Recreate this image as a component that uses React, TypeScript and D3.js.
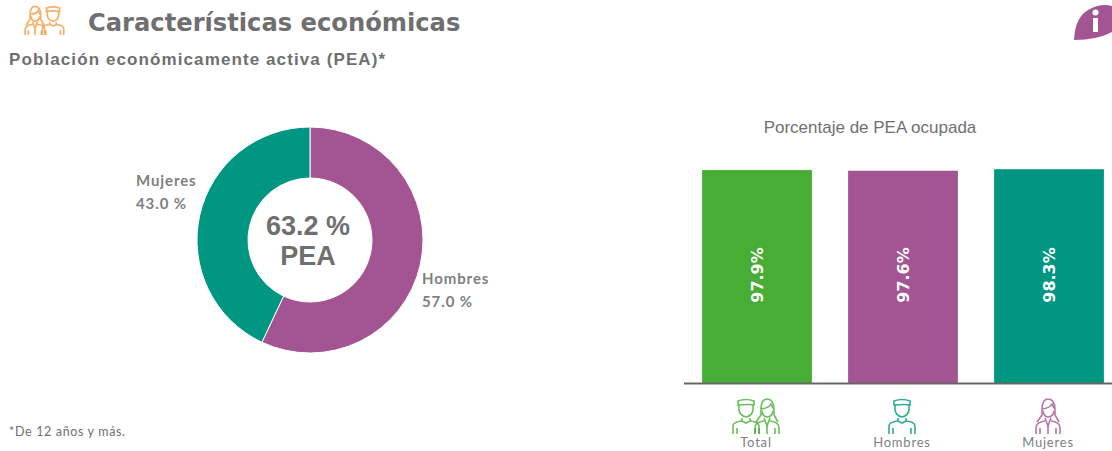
import React from 'react'
import * as d3 from 'd3'

const PIE_LABELS = ['Hombres', 'Mujeres']
const PIE_VALUES = [57.0, 43.0]
const PIE_COLORS = ['#a25592', '#009681']
const BAR_LABELS = ['Total', 'Hombres', 'Mujeres']
const BAR_VALUES = [97.9, 97.6, 98.3]
const BAR_COLORS = ['#47ad35', '#a25592', '#009681']

const GRAY = '#6f6f6f'
const width = 1112
const height = 451

// line-art people, drawn around (0,0), about 34px tall
const Man = ({ x, y, color, w = 1.6 }: { x: number; y: number; color: string; w?: number }) => (
  <g transform={`translate(${x},${y})`} fill="none" stroke={color} strokeWidth={w} opacity={0.8}>
    <path d="M-8,-13 L-8,-17 Q0,-20 8,-17 L8,-13 Q4,-14 -8,-13 Z" />
    <path d="M-7,-13 L-7,-8 Q-6,-2 0,-1 Q6,-2 7,-8 L7,-13" />
    <path d="M-4,0 L-4,3 L0,5 L4,3 L4,0" />
    <path d="M-13,16 L-13,8 Q-13,4 -4,3 M13,16 L13,8 Q13,4 4,3" />
    <path d="M-9,16 L-9,10 M9,16 L9,10" />
  </g>
)

const Woman = ({ x, y, color, w = 1.6 }: { x: number; y: number; color: string; w?: number }) => (
  <g transform={`translate(${x},${y})`} fill="none" stroke={color} strokeWidth={w} opacity={0.8}>
    <path d="M-6,-8 Q-6,-19 0,-19 Q7,-19 7,-8 L7,-3 L11,4 M-6,-8 L-6,-3 L-11,4" />
    <path d="M-6,-9 Q2,-10 4,-14 Q5,-11 7,-9" />
    <path d="M-5,-7 Q-4,-1 0,-1 Q5,-1 6,-7" />
    <path d="M-3,0 L0,8 L3,0 M-3,3 Q-12,4 -12,10 L-12,16 M3,3 Q12,4 12,10 L12,16" />
    <path d="M-8,16 L-8,10 M8,16 L8,10 M0,8 L0,16" />
  </g>
)

export default function App() {
  const cx = 310
  const cy = 240
  const pie = d3.pie<number>().sort(null)(PIE_VALUES)
  const arc = d3.arc<d3.PieArcDatum<number>>().innerRadius(62).outerRadius(113)

  const x = d3.scaleBand<string>().domain(BAR_LABELS).range([684, 1122]).paddingInner(0.248).paddingOuter(0.124)
  const y = d3.scaleLinear().domain([0, 100]).range([383, 165.5])

  const iconColors = ['#47ad35', '#009681', '#a25592']
  const pieText = { fontSize: 15, fontWeight: 'bold', fill: '#7f7f7f', letterSpacing: 0.9 }

  return (
    <svg
      width={width}
      height={height}
      style={{ position: 'absolute', left: 0, top: 0, background: '#fff' }}
      fontFamily="Lato, sans-serif"
    >
      <g transform="translate(44,22) scale(0.82)">
        <Woman x={-11} y={0} color="#f5a04a" w={2.2} />
        <Man x={11} y={0} color="#f5a04a" w={2.2} />
      </g>
      <text x={88} y={31} fontFamily="'DejaVu Sans', sans-serif" fontWeight="bold" fontSize={24.2} fill={GRAY}>
        Características económicas
      </text>
      <text x={9} y={65} fontFamily="'Liberation Sans', sans-serif" fontWeight="bold" fontSize={17} letterSpacing={1.1} fill={GRAY}>
        Población económicamente activa (PEA)*
      </text>

      {/* info badge */}
      <path
        d="M1074,40 Q1075,16 1090,9 Q1101,3 1112,6 L1112,32 Q1097,40 1074,40 Z"
        fill="#a25592"
      />
      <rect x={1093} y={18} width={5} height={14} fill="#fff" />
      <circle cx={1095.5} cy={12.5} r={3} fill="#fff" />

      <g transform={`translate(${cx},${cy})`}>
        {pie.map((d, i) => (
          <path key={PIE_LABELS[i]} d={arc(d) ?? ''} fill={PIE_COLORS[i]} stroke="#fff" strokeWidth={1} />
        ))}
      </g>
      <text x={cx - 2} y={235} textAnchor="middle" fontFamily="'Liberation Sans', sans-serif" fontWeight="bold" fontSize={27} fill={GRAY}>
        63.2 %
      </text>
      <text x={cx - 2} y={265} textAnchor="middle" fontFamily="'Liberation Sans', sans-serif" fontWeight="bold" fontSize={27} fill={GRAY}>
        PEA
      </text>
      <text x={422} y={284} {...pieText}>{PIE_LABELS[0]}</text>
      <text x={422} y={307} {...pieText}>{PIE_VALUES[0].toFixed(1)} %</text>
      <text x={136} y={186} {...pieText}>{PIE_LABELS[1]}</text>
      <text x={136} y={209} {...pieText}>{PIE_VALUES[1].toFixed(1)} %</text>

      <text x={870} y={133} textAnchor="middle" fontFamily="'Liberation Sans', sans-serif" fontSize={17} fill={GRAY}>
        Porcentaje de PEA ocupada
      </text>

      {BAR_LABELS.map((label, i) => {
        const bx = x(label) ?? 0
        const mid = bx + x.bandwidth() / 2
        return (
          <g key={label}>
            <rect x={bx} y={y(BAR_VALUES[i])} width={x.bandwidth()} height={y(0) - y(BAR_VALUES[i])} fill={BAR_COLORS[i]} />
            <text
              transform={`translate(${mid + 6},275) rotate(-90)`}
              textAnchor="middle"
              fontFamily="'DejaVu Sans', sans-serif"
              fontWeight="bold"
              fontSize={16}
              fill="#fff"
            >
              {BAR_VALUES[i].toFixed(1)}%
            </text>
            <text x={mid - 1} y={447} textAnchor="middle" fontSize={13} letterSpacing={0.8} fill="#7f7f7f">{label}</text>
          </g>
        )
      })}
      <line x1={684} x2={1112} y1={383.5} y2={383.5} stroke="#666" strokeWidth={2} />

      <Man x={746} y={418} color={iconColors[0]} />
      <Woman x={767} y={418} color={iconColors[0]} />
      <Man x={902} y={418} color={iconColors[1]} />
      <Woman x={1048} y={418} color={iconColors[2]} />

      <text x={9} y={436} fontSize={12.5} letterSpacing={0.65} fill={GRAY}>*De 12 años y más.</text>
    </svg>
  )
}
